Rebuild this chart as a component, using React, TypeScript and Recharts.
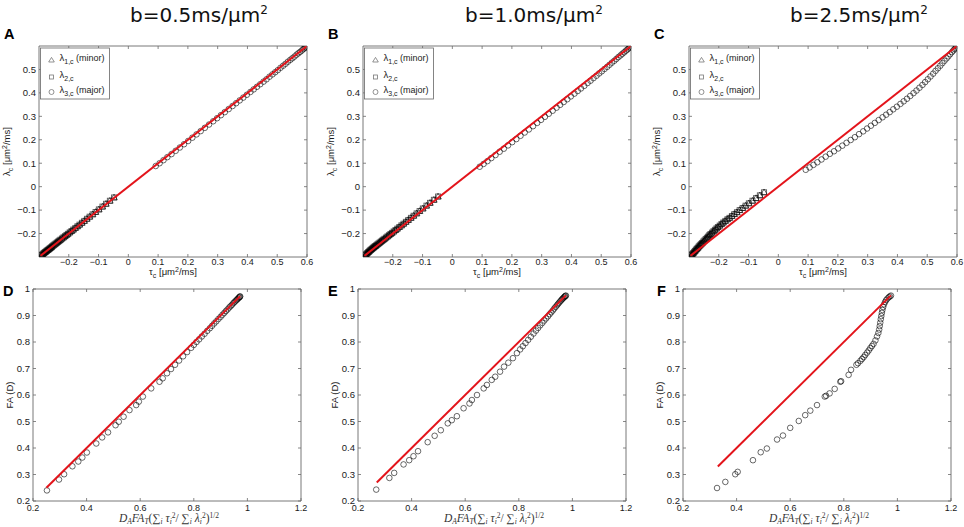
import React from "react";
import { ScatterChart, Scatter, XAxis, YAxis, ReferenceArea } from "recharts";

// top row: tau_c on x, lambda_c on y (negative branch = minor eigenvalues)
const TAU_NEG = [-0.292, -0.289, -0.286, -0.283, -0.28, -0.277, -0.274, -0.271, -0.268, -0.265, -0.262, -0.259, -0.256, -0.252, -0.248, -0.244, -0.24, -0.236, -0.232, -0.228, -0.223, -0.218, -0.213, -0.208, -0.203, -0.197, -0.191, -0.185, -0.178, -0.171, -0.164, -0.156, -0.148, -0.139, -0.13, -0.12, -0.11, -0.099, -0.087, -0.075, -0.062, -0.048];
const LAM_NEG_05 = [-0.292, -0.289, -0.285, -0.282, -0.279, -0.276, -0.273, -0.27, -0.267, -0.264, -0.261, -0.258, -0.254, -0.25, -0.246, -0.242, -0.238, -0.234, -0.23, -0.226, -0.221, -0.216, -0.211, -0.206, -0.201, -0.195, -0.189, -0.183, -0.176, -0.169, -0.162, -0.154, -0.146, -0.137, -0.128, -0.118, -0.108, -0.097, -0.085, -0.073, -0.06, -0.046];
const LAM_NEG_10 = [-0.291, -0.287, -0.283, -0.279, -0.276, -0.272, -0.269, -0.266, -0.262, -0.259, -0.256, -0.253, -0.25, -0.246, -0.242, -0.238, -0.234, -0.23, -0.226, -0.222, -0.217, -0.212, -0.207, -0.202, -0.197, -0.191, -0.185, -0.179, -0.172, -0.165, -0.158, -0.15, -0.142, -0.133, -0.124, -0.114, -0.104, -0.093, -0.081, -0.069, -0.056, -0.042];
const LAM_NEG_25 = [-0.292, -0.287, -0.283, -0.278, -0.274, -0.269, -0.265, -0.261, -0.256, -0.252, -0.248, -0.244, -0.24, -0.234, -0.229, -0.223, -0.218, -0.213, -0.207, -0.202, -0.196, -0.19, -0.184, -0.178, -0.172, -0.166, -0.159, -0.153, -0.146, -0.139, -0.133, -0.125, -0.117, -0.109, -0.1, -0.091, -0.081, -0.071, -0.06, -0.049, -0.037, -0.024];

// positive branch = major eigenvalue
const TAU_POS = [0.092, 0.105, 0.118, 0.131, 0.145, 0.159, 0.173, 0.187, 0.201, 0.215, 0.229, 0.243, 0.257, 0.271, 0.285, 0.298, 0.311, 0.324, 0.337, 0.35, 0.362, 0.374, 0.386, 0.398, 0.41, 0.421, 0.432, 0.443, 0.454, 0.464, 0.474, 0.484, 0.493, 0.502, 0.511, 0.52, 0.528, 0.536, 0.544, 0.551, 0.558, 0.565, 0.571, 0.577, 0.583, 0.588, 0.592, 0.596, 0.599];
const LAM_POS_05 = [0.088, 0.1, 0.113, 0.126, 0.139, 0.153, 0.167, 0.181, 0.195, 0.209, 0.223, 0.237, 0.251, 0.265, 0.279, 0.292, 0.305, 0.318, 0.331, 0.344, 0.356, 0.368, 0.38, 0.392, 0.404, 0.415, 0.426, 0.437, 0.448, 0.458, 0.469, 0.479, 0.488, 0.497, 0.507, 0.516, 0.524, 0.533, 0.541, 0.548, 0.555, 0.563, 0.569, 0.575, 0.581, 0.587, 0.591, 0.595, 0.599];
const LAM_POS_10 = [0.085, 0.097, 0.109, 0.122, 0.135, 0.149, 0.162, 0.176, 0.19, 0.203, 0.217, 0.231, 0.244, 0.258, 0.272, 0.285, 0.298, 0.311, 0.324, 0.337, 0.349, 0.361, 0.373, 0.385, 0.397, 0.408, 0.419, 0.43, 0.442, 0.452, 0.463, 0.473, 0.483, 0.492, 0.502, 0.511, 0.52, 0.529, 0.537, 0.545, 0.553, 0.56, 0.567, 0.573, 0.58, 0.585, 0.59, 0.595, 0.599];
const LAM_POS_25 = [0.072, 0.082, 0.093, 0.104, 0.116, 0.128, 0.14, 0.151, 0.163, 0.175, 0.187, 0.199, 0.211, 0.224, 0.236, 0.248, 0.26, 0.272, 0.284, 0.296, 0.307, 0.318, 0.33, 0.341, 0.353, 0.364, 0.375, 0.387, 0.399, 0.41, 0.422, 0.434, 0.446, 0.458, 0.47, 0.482, 0.494, 0.505, 0.516, 0.527, 0.537, 0.547, 0.556, 0.565, 0.574, 0.581, 0.587, 0.593, 0.599];

// bottom row: D_A FA_T (...)^{1/2} on x, FA(D) on y
const DAFA_05 = [0.252, 0.297, 0.316, 0.347, 0.369, 0.384, 0.401, 0.436, 0.458, 0.48, 0.508, 0.52, 0.538, 0.56, 0.585, 0.595, 0.61, 0.641, 0.672, 0.684, 0.7, 0.715, 0.73, 0.745, 0.76, 0.775, 0.79, 0.8, 0.81, 0.82, 0.83, 0.84, 0.85, 0.86, 0.868, 0.876, 0.884, 0.892, 0.9, 0.907, 0.914, 0.92, 0.926, 0.932, 0.937, 0.942, 0.947, 0.951, 0.955, 0.959, 0.962, 0.965, 0.968, 0.97, 0.972, 0.973];
const FA_05 = [0.24, 0.281, 0.301, 0.331, 0.349, 0.364, 0.383, 0.417, 0.44, 0.459, 0.486, 0.499, 0.518, 0.543, 0.562, 0.575, 0.594, 0.625, 0.65, 0.663, 0.682, 0.698, 0.714, 0.73, 0.746, 0.762, 0.778, 0.789, 0.8, 0.81, 0.821, 0.831, 0.842, 0.852, 0.861, 0.87, 0.878, 0.887, 0.895, 0.903, 0.91, 0.917, 0.923, 0.93, 0.935, 0.94, 0.946, 0.95, 0.954, 0.958, 0.961, 0.964, 0.967, 0.969, 0.971, 0.972];
const DAFA_10 = [0.268, 0.317, 0.335, 0.37, 0.391, 0.407, 0.424, 0.46, 0.486, 0.509, 0.535, 0.55, 0.569, 0.594, 0.616, 0.625, 0.644, 0.669, 0.681, 0.699, 0.712, 0.73, 0.745, 0.761, 0.778, 0.793, 0.805, 0.815, 0.825, 0.835, 0.845, 0.855, 0.864, 0.872, 0.88, 0.888, 0.895, 0.902, 0.909, 0.915, 0.921, 0.927, 0.932, 0.937, 0.942, 0.946, 0.95, 0.954, 0.958, 0.961, 0.964, 0.967, 0.97, 0.972, 0.974, 0.976];
const FA_10 = [0.243, 0.287, 0.306, 0.338, 0.354, 0.369, 0.388, 0.422, 0.446, 0.467, 0.493, 0.505, 0.52, 0.55, 0.568, 0.581, 0.6, 0.625, 0.638, 0.657, 0.669, 0.688, 0.707, 0.722, 0.739, 0.758, 0.772, 0.784, 0.796, 0.808, 0.82, 0.832, 0.843, 0.853, 0.863, 0.872, 0.881, 0.889, 0.897, 0.905, 0.912, 0.919, 0.926, 0.932, 0.938, 0.943, 0.948, 0.953, 0.957, 0.961, 0.964, 0.967, 0.97, 0.972, 0.974, 0.975];
const DAFA_25 = [0.327, 0.358, 0.395, 0.404, 0.461, 0.49, 0.513, 0.551, 0.573, 0.6, 0.632, 0.656, 0.675, 0.7, 0.729, 0.734, 0.747, 0.766, 0.787, 0.79, 0.818, 0.827, 0.847, 0.853, 0.862, 0.868, 0.874, 0.88, 0.887, 0.893, 0.899, 0.905, 0.911, 0.918, 0.924, 0.929, 0.932, 0.934, 0.936, 0.938, 0.94, 0.942, 0.944, 0.947, 0.95, 0.954, 0.958, 0.963, 0.968, 0.972, 0.976];
const FA_25 = [0.249, 0.272, 0.301, 0.31, 0.354, 0.384, 0.398, 0.432, 0.447, 0.476, 0.502, 0.524, 0.541, 0.562, 0.594, 0.597, 0.606, 0.623, 0.65, 0.652, 0.676, 0.695, 0.714, 0.72, 0.729, 0.736, 0.743, 0.751, 0.76, 0.768, 0.777, 0.785, 0.793, 0.806, 0.821, 0.834, 0.847, 0.86, 0.873, 0.886, 0.898, 0.91, 0.921, 0.932, 0.942, 0.951, 0.958, 0.964, 0.969, 0.972, 0.975];

// identity reference lines (start, end)
const LINE_TOP = [-0.295, 0.6];
const LINE_05 = [0.25, 0.973];
const LINE_10 = [0.27, 0.976];
const LINE_25 = [0.33, 0.976];

const TOP_X_TICKS = [-0.2, -0.1, 0, 0.1, 0.2, 0.3, 0.4, 0.5, 0.6];
const TOP_Y_TICKS = [-0.2, -0.1, 0, 0.1, 0.2, 0.3, 0.4, 0.5];
const BOT_X_TICKS = [0.2, 0.4, 0.6, 0.8, 1, 1.2];
const BOT_Y_TICKS = [0.2, 0.3, 0.4, 0.5, 0.6, 0.7, 0.8, 0.9, 1];
const B_VALUES = ["0.5", "1.0", "2.5"];

const SANS = "'Liberation Sans', Arial, sans-serif";
const SERIF = "'Liberation Serif', 'DejaVu Serif', serif";
const AXIS = "#6a6a6a";
const RED = "#e3141b";

const zip = (xs: number[], ys: number[]) => xs.map((x, i) => ({ x, y: ys[i] }));
const fmt = (v: number) => (v < 0 ? "\u2212" + String(-v) : String(v));

const mk = { fill: "none", stroke: "#000", strokeWidth: 0.95, strokeOpacity: 0.62 };
const Tri = (p: any) => (
  <path d={`M${p.cx},${p.cy - 3.3}L${p.cx - 3.3},${p.cy + 2.4}L${p.cx + 3.3},${p.cy + 2.4}Z`} {...mk} />
);
const Sq = (p: any) => <rect x={p.cx - 2.5} y={p.cy - 2.5} width={5} height={5} {...mk} />;
const Circ = (p: any) => <circle cx={p.cx} cy={p.cy} r={2.8} {...mk} />;
const NoDot = () => <g />;

interface Series {
  data: { x: number; y: number }[];
  shape: (p: any) => React.ReactElement;
}

interface PanelProps {
  left: number;
  top: number;
  w: number;
  h: number;
  xDomain: [number, number];
  yDomain: [number, number];
  xTicks: number[];
  yTicks: number[];
  series: Series[];
  line: number[];
  labelGap: number;
}

function Panel({ left, top, w, h, xDomain, yDomain, xTicks, yTicks, series, line, labelGap }: PanelProps) {
  const xTick = (p: any) => (
    <g>
      <line x1={p.x} x2={p.x} y1={p.y} y2={p.y - 3} stroke={AXIS} strokeWidth={0.8} />
      <line x1={p.x} x2={p.x} y1={p.y - h} y2={p.y - h + 3} stroke={AXIS} strokeWidth={0.8} />
      <text x={p.x} y={p.y + labelGap} textAnchor="middle" fontSize={9} fill="#1a1a1a" fontFamily={SANS}>
        {fmt(p.payload.value)}
      </text>
    </g>
  );
  const yTick = (p: any) => (
    <g>
      <line x1={p.x} x2={p.x + 3} y1={p.y} y2={p.y} stroke={AXIS} strokeWidth={0.8} />
      <line x1={p.x + w} x2={p.x + w - 3} y1={p.y} y2={p.y} stroke={AXIS} strokeWidth={0.8} />
      <text x={p.x - 3} y={p.y + 3.3} textAnchor="end" fontSize={9.5} fill="#1a1a1a" fontFamily={SANS}>
        {fmt(p.payload.value)}
      </text>
    </g>
  );
  const lineData = zip(line, line);

  return (
    <div style={{ position: "absolute", left: left - 40, top: top - 8 }}>
      <ScatterChart width={40 + w + 12} height={8 + h + 22} margin={{ top: 8, right: 12, bottom: 0, left: 0 }}>
        <XAxis
          type="number"
          dataKey="x"
          domain={xDomain}
          ticks={xTicks}
          interval={0}
          allowDataOverflow
          tick={xTick}
          tickSize={0}
          tickMargin={0}
          axisLine={false}
          tickLine={false}
          height={22}
        />
        <YAxis
          type="number"
          dataKey="y"
          domain={yDomain}
          ticks={yTicks}
          interval={0}
          allowDataOverflow
          tick={yTick}
          tickSize={0}
          tickMargin={0}
          axisLine={false}
          tickLine={false}
          width={40}
        />
        <ReferenceArea
          x1={xDomain[0]}
          x2={xDomain[1]}
          y1={yDomain[0]}
          y2={yDomain[1]}
          fill="none"
          stroke={AXIS}
          strokeWidth={0.9}
          ifOverflow="visible"
        />
        {series.map((s, i) => (
          <Scatter key={i} data={s.data} shape={s.shape} isAnimationActive={false} />
        ))}
        <Scatter data={lineData} shape={NoDot} line={{ stroke: RED, strokeWidth: 2 }} isAnimationActive={false} />
      </ScatterChart>
    </div>
  );
}

const TOP_LEFTS = [39, 363, 689];
const BOT_LEFTS = [33, 358, 683];
const TOP_Y = 46;
const BOT_Y = 289;
const PW = 268;
const TOP_H = 211;
const BOT_H = 212;

function LegendBox({ x, y }: { x: number; y: number }) {
  const rows = [
    { shape: "tri", sub: "1,c", tail: " (minor)" },
    { shape: "sq", sub: "2,c", tail: "" },
    { shape: "circ", sub: "3,c", tail: " (major)" },
  ];
  const ys = [12, 29, 44];
  const st = { fill: "none", stroke: "#777", strokeWidth: 0.8 };
  return (
    <g transform={`translate(${x},${y})`}>
      <rect x={0} y={0} width={69} height={51} fill="#fff" stroke="#666" strokeWidth={0.8} />
      {rows.map((r, i) => {
        const cy = ys[i];
        return (
          <g key={i}>
            {r.shape === "tri" && <path d={`M11,${cy - 2.6}L8.2,${cy + 2}L13.8,${cy + 2}Z`} {...st} />}
            {r.shape === "sq" && <rect x={9} y={cy - 2} width={4} height={4} {...st} />}
            {r.shape === "circ" && <circle cx={11} cy={cy} r={2.5} {...st} />}
            <text x={19} y={cy + 1} fontFamily={SANS} fontSize={9.5} fill="#222">
              λ
              <tspan dy={3} fontSize={7}>{r.sub}</tspan>
              <tspan dy={-3} fontSize={9}>{r.tail}</tspan>
            </text>
          </g>
        );
      })}
    </g>
  );
}

function Overlay() {
  const letters = [
    { t: "A", x: 4, y: 39 },
    { t: "B", x: 328, y: 39 },
    { t: "C", x: 654, y: 39 },
    { t: "D", x: 3, y: 296 },
    { t: "E", x: 328, y: 296 },
    { t: "F", x: 657, y: 296 },
  ];
  const titleX = [130, 465, 790];
  const sub = 7;
  const lsub = 7.5;
  return (
    <svg width={964} height={527} style={{ position: "absolute", left: 0, top: 0, pointerEvents: "none" }}>
      {B_VALUES.map((b, i) => (
        <text key={b} x={titleX[i]} y={22} fontFamily="'DejaVu Sans', sans-serif" fontSize={20} fill="#111">
          b={b}ms/μm<tspan dy={-8} fontSize={12}>2</tspan>
        </text>
      ))}
      {letters.map((l) => (
        <text key={l.t} x={l.x} y={l.y} fontFamily={SANS} fontWeight="bold" fontSize={14.5} fill="#000">
          {l.t}
        </text>
      ))}
      {TOP_LEFTS.map((lx) => (
        <g key={"top" + lx}>
          <LegendBox x={lx + 1.5} y={TOP_Y + 2} />
          <text
            transform={`translate(${lx - 29},${TOP_Y + TOP_H / 2}) rotate(-90)`}
            textAnchor="middle"
            fontFamily={SANS}
            fontSize={9.5}
            fill="#1a1a1a"
          >
            λ<tspan dy={2.5} fontSize={sub}>c</tspan>
            <tspan dy={-2.5}> [μm</tspan>
            <tspan dy={-3.5} fontSize={sub}>2</tspan>
            <tspan dy={3.5}>/ms]</tspan>
          </text>
          <text x={lx + PW / 2} y={TOP_Y + TOP_H + 18} textAnchor="middle" fontFamily={SANS} fontSize={9.5} fill="#1a1a1a">
            τ<tspan dy={2.5} fontSize={sub}>c</tspan>
            <tspan dy={-2.5}> [μm</tspan>
            <tspan dy={-3.5} fontSize={sub}>2</tspan>
            <tspan dy={3.5}>/ms]</tspan>
          </text>
        </g>
      ))}
      {BOT_LEFTS.map((lx) => (
        <g key={"bot" + lx}>
          <text
            transform={`translate(${lx - 20},${BOT_Y + BOT_H / 2}) rotate(-90)`}
            textAnchor="middle"
            fontFamily={SANS}
            fontSize={9.5}
            fill="#1a1a1a"
          >
            FA (D)
          </text>
          <text
            x={lx + PW / 2 + 2}
            y={BOT_Y + BOT_H + 21}
            textAnchor="middle"
            fontFamily={SERIF}
            fontStyle="italic"
            fontSize={11.5}
            fill="#333"
          >
            D<tspan dy={2} fontSize={lsub}>A</tspan>
            <tspan dy={-2}>FA</tspan>
            <tspan dy={2} fontSize={lsub}>T</tspan>
            <tspan dy={-2} fontStyle="normal">(∑</tspan>
            <tspan dy={2} fontSize={lsub}>i</tspan>
            <tspan dy={-2}> τ</tspan>
            <tspan dy={2} fontSize={lsub}>i</tspan>
            <tspan dy={-6.5} fontSize={lsub} fontStyle="normal">2</tspan>
            <tspan dy={4.5} fontStyle="normal">/ ∑</tspan>
            <tspan dy={2} fontSize={lsub}>i</tspan>
            <tspan dy={-2}> λ</tspan>
            <tspan dy={2} fontSize={lsub}>i</tspan>
            <tspan dy={-6.5} fontSize={lsub} fontStyle="normal">2</tspan>
            <tspan dy={4.5} fontStyle="normal">)</tspan>
            <tspan dy={-4.5} fontSize={lsub} fontStyle="normal">1/2</tspan>
          </text>
        </g>
      ))}
    </svg>
  );
}

export default function App() {
  const topNeg = [LAM_NEG_05, LAM_NEG_10, LAM_NEG_25];
  const topPos = [LAM_POS_05, LAM_POS_10, LAM_POS_25];
  const botX = [DAFA_05, DAFA_10, DAFA_25];
  const botY = [FA_05, FA_10, FA_25];
  const botLines = [LINE_05, LINE_10, LINE_25];

  return (
    <div style={{ position: "absolute", left: 0, top: 0, width: 964, height: 527, background: "#fff", overflow: "hidden" }}>
      {TOP_LEFTS.map((lx, i) => {
        const neg = zip(TAU_NEG, topNeg[i]);
        return (
          <Panel
            key={"t" + i}
            left={lx}
            top={TOP_Y}
            w={PW}
            h={TOP_H}
            xDomain={[-0.3, 0.6]}
            yDomain={[-0.3, 0.6]}
            xTicks={TOP_X_TICKS}
            yTicks={TOP_Y_TICKS}
            series={[
              { data: neg, shape: Tri },
              { data: neg, shape: Sq },
              { data: zip(TAU_POS, topPos[i]), shape: Circ },
            ]}
            line={LINE_TOP}
            labelGap={8}
          />
        );
      })}
      {BOT_LEFTS.map((lx, i) => (
        <Panel
          key={"b" + i}
          left={lx}
          top={BOT_Y}
          w={PW}
          h={BOT_H}
          xDomain={[0.2, 1.2]}
          yDomain={[0.2, 1]}
          xTicks={BOT_X_TICKS}
          yTicks={BOT_Y_TICKS}
          series={[{ data: zip(botX[i], botY[i]), shape: Circ }]}
          line={botLines[i]}
          labelGap={10}
        />
      ))}
      <Overlay />
    </div>
  );
}
